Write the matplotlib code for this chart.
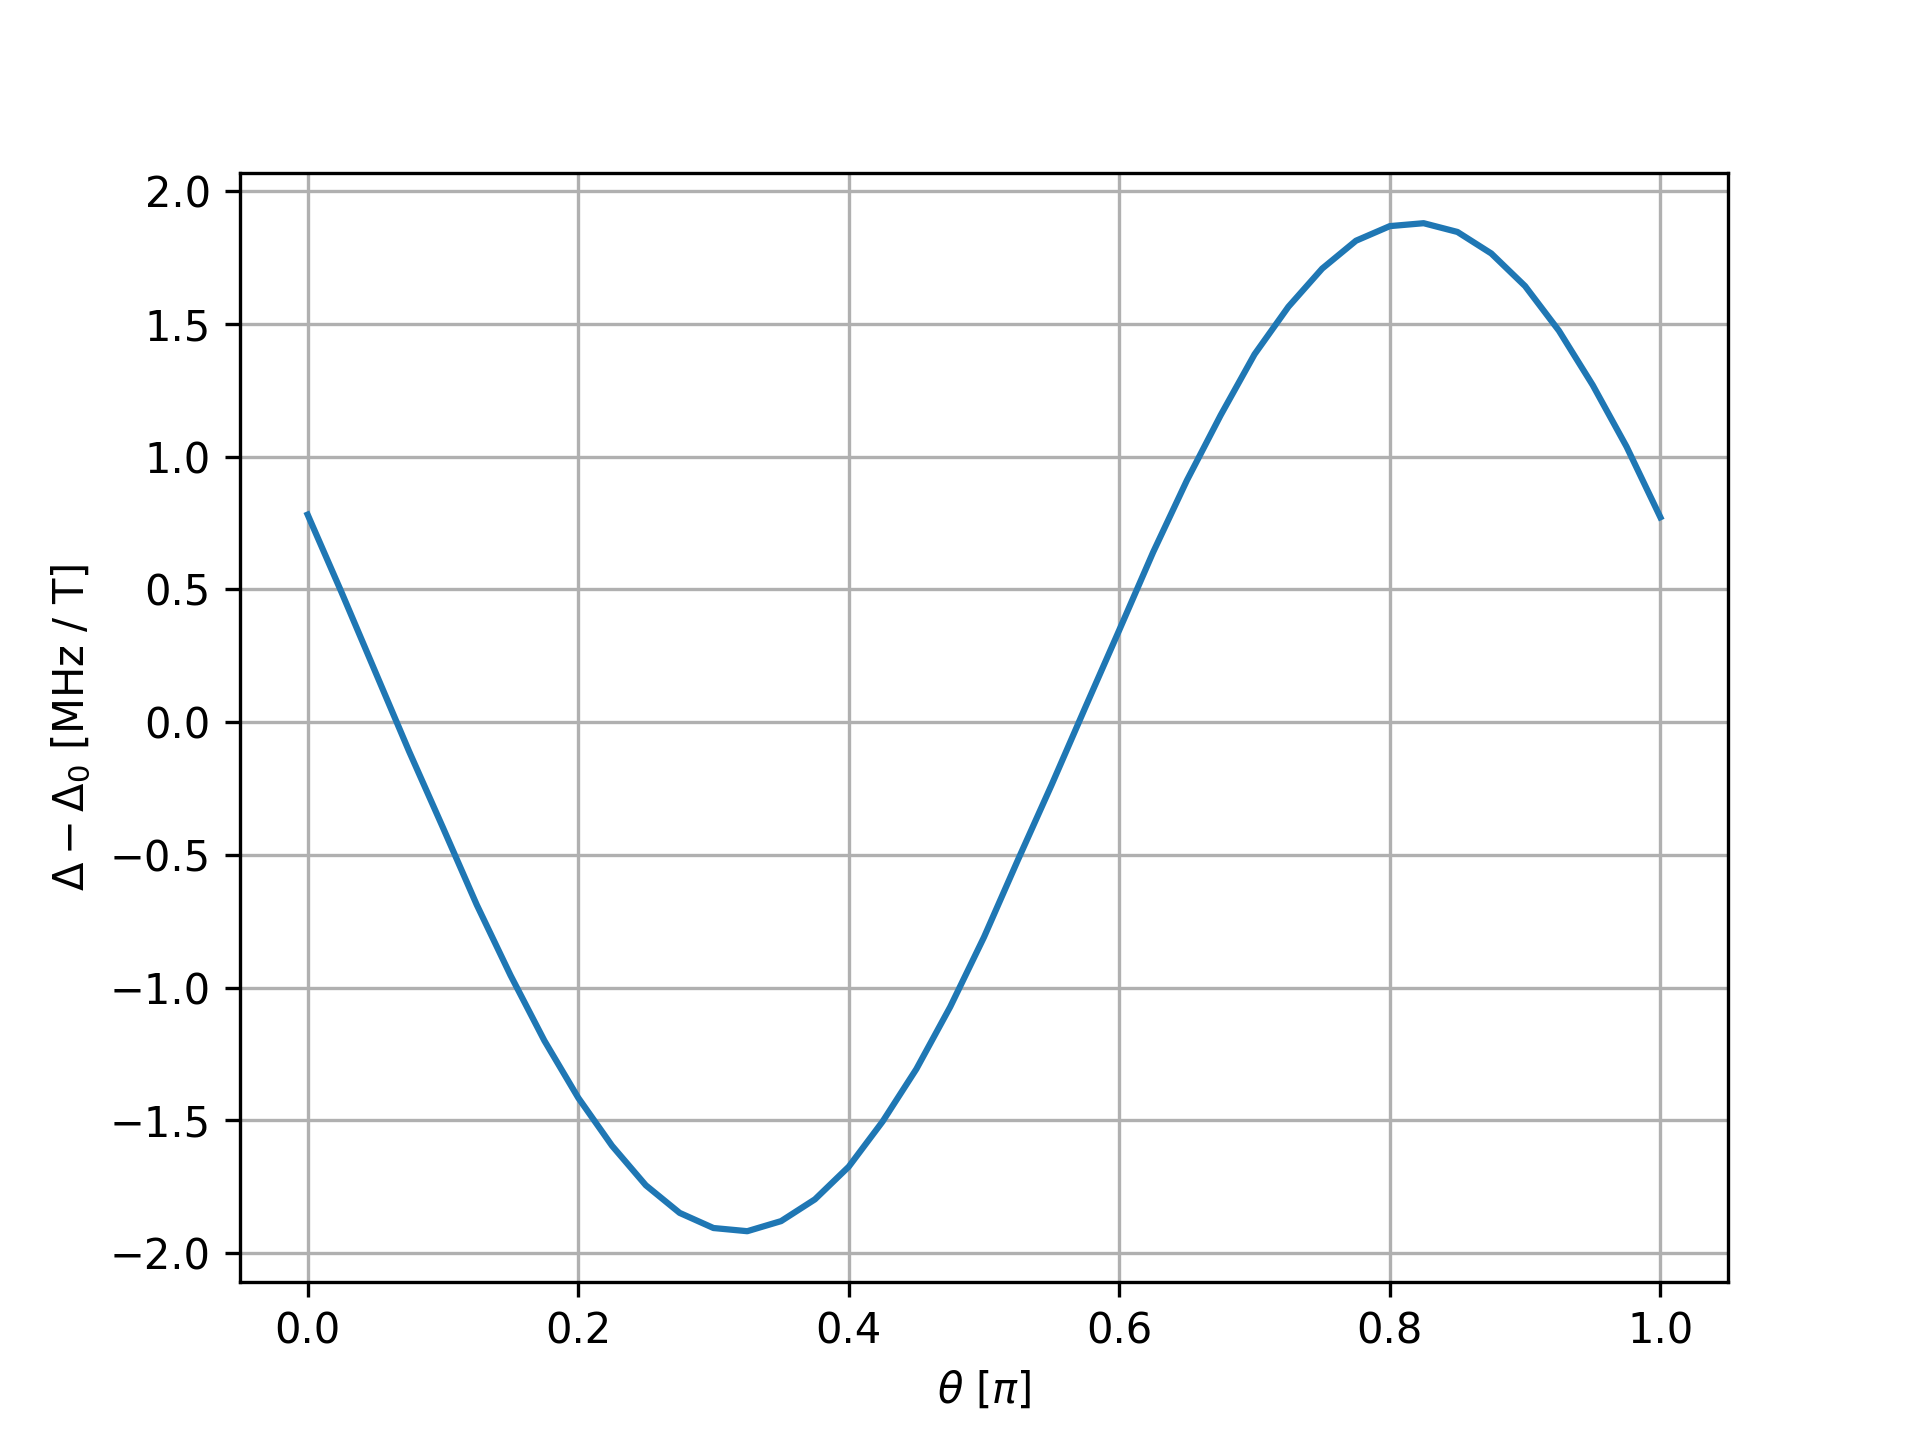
#angle dependence plot
import matplotlib
matplotlib.use("Agg")
import matplotlib.pyplot as plt

#theta in units of pi
theta = [0.0, 0.025, 0.05, 0.075, 0.1, 0.125, 0.15, 0.175, 0.2, 0.225,
         0.25, 0.275, 0.3, 0.325, 0.35, 0.375, 0.4, 0.425, 0.45, 0.475,
         0.5, 0.525, 0.55, 0.575, 0.6, 0.625, 0.65, 0.675, 0.7, 0.725,
         0.75, 0.775, 0.8, 0.825, 0.85, 0.875, 0.9, 0.925, 0.95, 0.975, 1.0]

#shift relative to Delta_0 (MHz / T)
shift = [0.782, 0.49, 0.19, -0.11, -0.397, -0.688, -0.954, -1.200, -1.415, -1.596,
         -1.745, -1.849, -1.906, -1.918, -1.880, -1.798, -1.675, -1.505, -1.307, -1.073,
         -0.810, -0.520, -0.236, 0.057, 0.347, 0.640, 0.911, 1.157, 1.386, 1.565,
         1.709, 1.814, 1.869, 1.880, 1.847, 1.766, 1.643, 1.475, 1.270, 1.038, 0.772]

fig, ax = plt.subplots(figsize=(6.4, 4.8), dpi=300)
ax.plot(theta, shift)
ax.grid(True)

# axis titles
ax.set_xlabel(r'$\theta$ [$\pi$]')
ax.set_ylabel(r'$\Delta - \Delta_0$ [MHz / T]')

fig.savefig('out.png', dpi=300)
